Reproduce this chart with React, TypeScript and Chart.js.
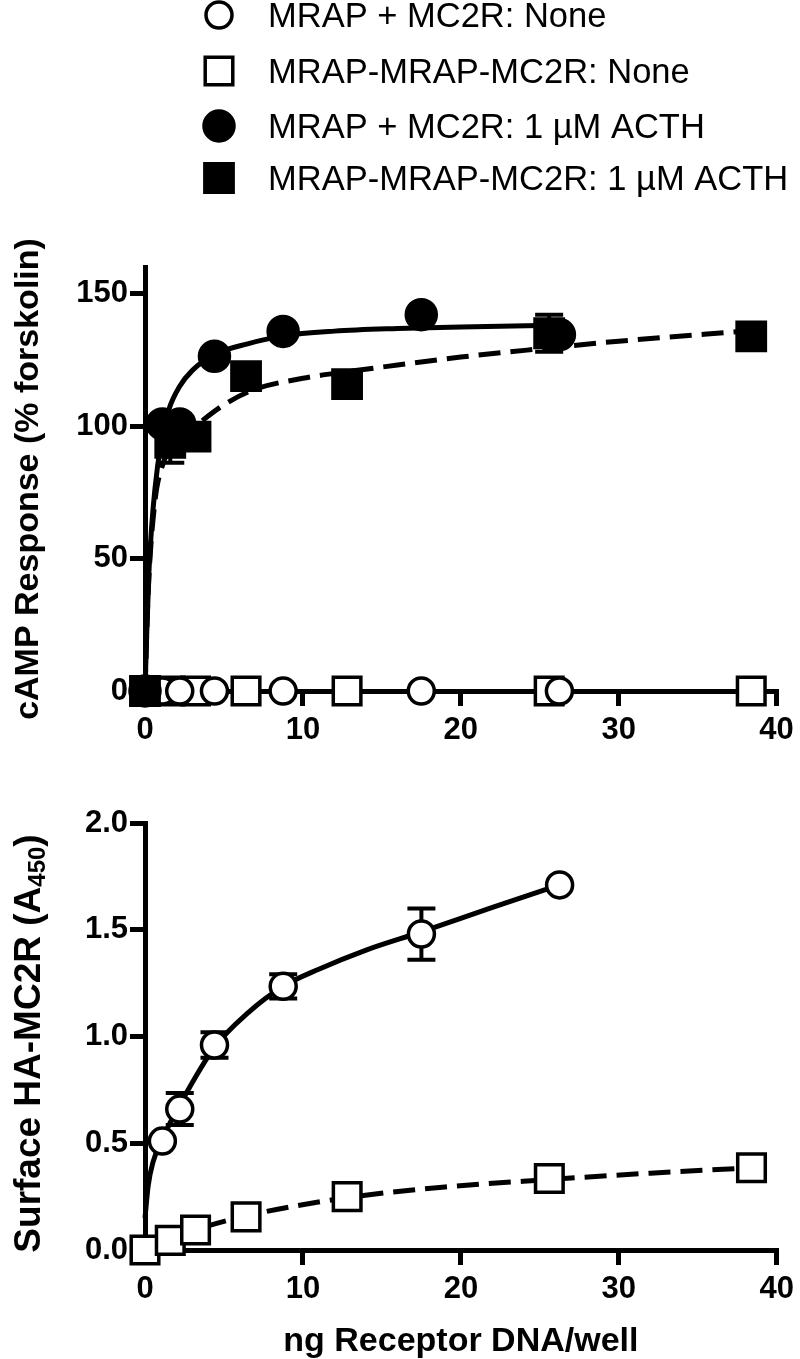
import React, { useEffect, useRef } from "react";
import { Chart, registerables } from "chart.js";
Chart.register(...registerables);

const FONT = "'Liberation Sans', Arial, Helvetica, sans-serif";

// ---------- Top panel (cAMP response) ----------
const topXTicks = [0, 10, 20, 30, 40];
const topYTicks = [0, 50, 100, 150];
const circleDNA = [0, 1.1, 2.2, 4.4, 8.75, 17.5, 26.25];
const squareDNA = [0, 1.6, 3.2, 6.4, 12.8, 25.6, 38.4];
const mc2rNone = [0, 0, 0, 0, 0, 0, 0];
const fusionNone = [0, 0, 0, 0, 0, 0, 0];
const mc2rACTH = [0, 100.8, 100.8, 126.3, 135.7, 142, 134.5];
const mc2rACTHErr = [0, 0, 0, 0, 0, 0, 0];
const fusionACTH = [0, 93.6, 96, 118.8, 115.8, 135, 133.8];
const fusionACTHErr = [0, 7.5, 0, 0, 0, 7, 0];

// fitted curves
const mc2rACTHFitX = [0, 0.1, 0.25, 0.5, 0.8, 1.1, 1.5, 2.2, 3, 4.4, 6.5, 8.75, 12, 16, 20, 26.25];
const mc2rACTHFitY = [0, 20, 45, 68, 85, 96, 106, 115, 121, 127, 131, 134, 135.8, 136.8, 137.4, 138];
const fusionACTHFitX = [0, 0.2, 0.6, 1.1, 2, 3.2, 5, 6.8, 10, 12.8, 16, 20, 24.8, 30, 38.4];
const fusionACTHFitY = [0, 37, 70, 85, 94, 100, 108, 113.5, 118, 120.5, 123, 126, 129, 132, 136];

// ---------- Bottom panel (surface expression) ----------
const botXTicks = [0, 10, 20, 30, 40];
const botYTicks = [0, 0.5, 1.0, 1.5, 2.0];
const surfCircleDNA = [1.1, 2.2, 4.4, 8.75, 17.5, 26.25];
const surfMC2R = [0.51, 0.66, 0.96, 1.235, 1.48, 1.71];
const surfMC2RErr = [0, 0.075, 0.06, 0.057, 0.12, 0];
const surfSquareDNA = [0, 1.6, 3.2, 6.4, 12.8, 25.6, 38.4];
const surfFusion = [0, 0.045, 0.094, 0.155, 0.25, 0.335, 0.385];
const surfFusionErr = [0, 0, 0, 0, 0, 0, 0];
const surfMC2RFitX = [0, 0.2, 0.5, 1.1, 2.2, 4.4, 6.5, 8.75, 11, 14, 17.5, 22, 26.25];
const surfMC2RFitY = [0.15, 0.3, 0.41, 0.52, 0.68, 0.95, 1.11, 1.235, 1.315, 1.405, 1.49, 1.605, 1.71];
const surfFusionFitX = [0, 1.6, 3.2, 6.4, 12.8, 19, 25.6, 32, 38.4];
const surfFusionFitY = [0, 0.05, 0.095, 0.16, 0.245, 0.295, 0.33, 0.36, 0.385];

const legendLabels = [
  "MRAP + MC2R: None",
  "MRAP-MRAP-MC2R: None",
  "MRAP + MC2R: 1 µM ACTH",
  "MRAP-MRAP-MC2R: 1 µM ACTH",
];

const pts = (xs: number[], ys: number[]) => xs.map((x, i) => ({ x, y: ys[i] }));

const openCircle = { pointStyle: "circle", pointRadius: 13, pointBackgroundColor: "#fff" };
const openSquare = { pointStyle: "rect", pointRadius: 19.5, pointBackgroundColor: "#fff" };
const fillCircle = { pointStyle: "circle", pointRadius: 15, pointBackgroundColor: "#000" };
const fillSquare = { pointStyle: "rect", pointRadius: 20, pointBackgroundColor: "#000" };

function markerDs(label: string, xs: number[], ys: number[], style: any, order: number, errors?: number[]) {
  return {
    label,
    data: pts(xs, ys),
    showLine: false,
    pointBorderColor: "#000",
    pointBorderWidth: 3.5,
    pointHoverRadius: style.pointRadius,
    clip: false,
    order,
    errors,
    ...style,
  };
}
function fitDs(xs: number[], ys: number[], dashed: boolean) {
  return {
    label: "fit",
    data: pts(xs, ys),
    showLine: true,
    borderColor: "#000",
    borderWidth: 5,
    borderDash: dashed ? [22, 10] : [],
    pointRadius: 0,
    cubicInterpolationMode: "monotone",
    fill: false,
    clip: false,
    order: 10,
  };
}

const errorBarPlugin = {
  id: "errorBars",
  beforeDatasetsDraw(chart: any) {
    const { ctx } = chart;
    const xs = chart.scales.x;
    const ys = chart.scales.y;
    ctx.save();
    ctx.strokeStyle = "#000";
    ctx.lineWidth = 4;
    chart.data.datasets.forEach((ds: any) => {
      if (!ds.errors) return;
      ds.data.forEach((p: any, i: number) => {
        const e = ds.errors[i];
        if (!e) return;
        const px = xs.getPixelForValue(p.x);
        const top = ys.getPixelForValue(p.y + e);
        const bot = ys.getPixelForValue(p.y - e);
        ctx.beginPath();
        ctx.moveTo(px, top);
        ctx.lineTo(px, bot);
        ctx.moveTo(px - 14, top);
        ctx.lineTo(px + 14, top);
        ctx.moveTo(px - 14, bot);
        ctx.lineTo(px + 14, bot);
        ctx.stroke();
      });
    });
    ctx.restore();
  },
};

function yTitlePlugin(main: string, sub: string, tail: string, baselineX: number, size: number, subSize: number, dy: number) {
  return {
    id: "yTitle",
    afterDraw(chart: any) {
      const { ctx, chartArea } = chart;
      const cy = (chartArea.top + chartArea.bottom) / 2 + dy;
      ctx.save();
      ctx.fillStyle = "#000";
      ctx.textBaseline = "alphabetic";
      ctx.textAlign = "left";
      const mainFont = `bold ${size}px ${FONT}`;
      const subFont = `bold ${subSize}px ${FONT}`;
      ctx.font = mainFont;
      const wMain = ctx.measureText(main).width;
      const wTail = tail ? ctx.measureText(tail).width : 0;
      ctx.font = subFont;
      const wSub = sub ? ctx.measureText(sub).width : 0;
      const total = wMain + wSub + wTail;
      ctx.translate(baselineX, cy);
      ctx.rotate(-Math.PI / 2);
      let x = -total / 2;
      ctx.font = mainFont;
      ctx.fillText(main, x, 0);
      x += wMain;
      if (sub) {
        ctx.font = subFont;
        ctx.fillText(sub, x, 5);
        x += wSub;
      }
      if (tail) {
        ctx.font = mainFont;
        ctx.fillText(tail, x, 0);
      }
      ctx.restore();
    },
  };
}

const legendPlugin = {
  id: "figLegend",
  afterDraw(chart: any) {
    const { ctx } = chart;
    const rows = [15, 71, 126, 178];
    const mx = 219;
    const tx = 268;
    const order = [2, 3, 0, 1]; // dataset indices in legend order
    ctx.save();
    order.forEach((di, r) => {
      const ds = chart.data.datasets[di];
      const y = rows[r];
      ctx.lineWidth = 3.5;
      ctx.strokeStyle = "#000";
      ctx.fillStyle = ds.pointBackgroundColor;
      ctx.beginPath();
      if (ds.pointStyle === "circle") {
        ctx.arc(mx, y, ds.pointRadius, 0, Math.PI * 2);
      } else {
        const h = ds.pointRadius * Math.SQRT1_2;
        ctx.rect(mx - h, y - h, 2 * h, 2 * h);
      }
      ctx.fill();
      ctx.stroke();
      ctx.fillStyle = "#000";
      ctx.font = `34.5px ${FONT}`;
      ctx.textBaseline = "alphabetic";
      ctx.textAlign = "left";
      ctx.fillText(legendLabels[r], tx, y + 12);
    });
    ctx.restore();
  },
};

function axisCommon(ticksArr: number[], fmt: (v: number) => string, pad: number) {
  return {
    type: "linear",
    afterBuildTicks: (s: any) => {
      s.ticks = ticksArr.map((v) => ({ value: v }));
    },
    grid: {
      display: true,
      drawOnChartArea: false,
      drawTicks: true,
      tickLength: 15,
      lineWidth: 5,
      color: "#000",
    },
    border: { display: true, width: 5, color: "#000" },
    ticks: {
      color: "#000",
      font: { family: FONT, size: 31, weight: "bold" },
      callback: (v: any) => fmt(Number(v)),
      maxRotation: 0,
      autoSkip: false,
      padding: pad,
    },
  };
}

function useChart(ref: any, config: any) {
  useEffect(() => {
    const chart = new Chart(ref.current, config);
    return () => chart.destroy();
  }, []);
}

export default function App() {
  const topRef = useRef<HTMLCanvasElement>(null);
  const botRef = useRef<HTMLCanvasElement>(null);

  useEffect(() => {
    document.body.style.margin = "0";
  }, []);

  useChart(topRef, {
    type: "scatter",
    data: {
      datasets: [
        markerDs(legendLabels[2], circleDNA, mc2rACTH, fillCircle, 1, mc2rACTHErr),
        markerDs(legendLabels[3], squareDNA, fusionACTH, fillSquare, 2, fusionACTHErr),
        markerDs(legendLabels[0], circleDNA, mc2rNone, openCircle, 3),
        markerDs(legendLabels[1], squareDNA, fusionNone, openSquare, 4),
        fitDs(mc2rACTHFitX, mc2rACTHFitY, false),
        fitDs(fusionACTHFitX, fusionACTHFitY, true),
      ],
    },
    options: {
      animation: false,
      responsive: false,
      devicePixelRatio: 1,
      layout: { padding: { left: 0, right: 17, top: 267, bottom: 0 } },
      plugins: { legend: { display: false }, tooltip: { enabled: false } },
      scales: {
        x: {
          ...axisCommon(topXTicks, (v) => String(v), 6),
          position: "bottom",
          min: 0,
          max: 40,
          afterFit: (s: any) => {
            s.height = 79;
          },
        },
        y: {
          ...axisCommon(topYTicks, (v) => String(v), 2),
          position: "left",
          min: 0,
          max: 160,
          afterFit: (s: any) => {
            s.width = 145;
          },
        },
      },
    },
    plugins: [errorBarPlugin, legendPlugin, yTitlePlugin("cAMP Response (% forskolin)", "", "", 38, 34, 20, 0)],
  });

  useChart(botRef, {
    type: "scatter",
    data: {
      datasets: [
        markerDs(legendLabels[0], surfCircleDNA, surfMC2R, openCircle, 1, surfMC2RErr),
        markerDs(legendLabels[1], surfSquareDNA, surfFusion, openSquare, 2, surfFusionErr),
        fitDs(surfMC2RFitX, surfMC2RFitY, false),
        fitDs(surfFusionFitX, surfFusionFitY, true),
      ],
    },
    options: {
      animation: false,
      responsive: false,
      devicePixelRatio: 1,
      layout: { padding: { left: 0, right: 17, top: 53, bottom: 0 } },
      plugins: { legend: { display: false }, tooltip: { enabled: false } },
      scales: {
        x: {
          ...axisCommon(botXTicks, (v) => String(v), 6),
          position: "bottom",
          min: 0,
          max: 40,
          afterFit: (s: any) => {
            s.height = 109;
          },
          title: {
            display: true,
            text: "ng Receptor DNA/well",
            color: "#000",
            font: { family: FONT, size: 34, weight: "bold", lineHeight: 1 },
            padding: { top: 0, bottom: 0 },
          },
        },
        y: {
          ...axisCommon(botYTicks, (v) => v.toFixed(1), 2),
          position: "left",
          min: 0,
          max: 2,
          afterFit: (s: any) => {
            s.width = 145;
          },
        },
      },
    },
    plugins: [errorBarPlugin, yTitlePlugin("Surface HA-MC2R (A", "450", ")", 40, 37, 24, 7)],
  });

  return (
    <div style={{ position: "relative", width: 800, height: 1359, overflow: "hidden", background: "#fff" }}>
      <canvas ref={topRef} width={800} height={770} style={{ position: "absolute", left: 0, top: 0, display: "block" }} />
      <canvas ref={botRef} width={800} height={589} style={{ position: "absolute", left: 0, top: 770, display: "block" }} />
    </div>
  );
}
